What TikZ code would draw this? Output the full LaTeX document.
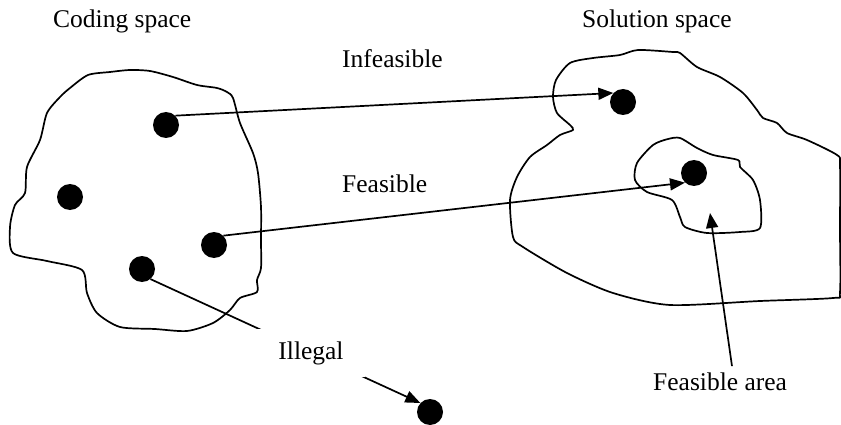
\documentclass[tikz,border=0pt]{standalone}
\usepackage{fontspec}
\setmainfont{Liberation Serif}
\usepackage{tikz}
\usetikzlibrary{arrows.meta,positioning}

\begin{document}
\begin{tikzpicture}[x=1pt,y=-1pt,
  blob/.style={line width=1.7pt,line join=round},
  dot/.style={circle,fill=black,inner sep=0pt,minimum size=26pt},
  lbl/.style={font=\fontsize{25.5}{28}\selectfont,inner sep=0pt},
  arrow/.style={-{Triangle[length=15pt,width=12pt]},line width=1.7pt}
]
\useasboundingbox (0,0) rectangle (841,425);

% coding space outline
\draw[blob] plot[smooth cycle,tension=0.45] coordinates {
  (88,75) (110,72) (130,70) (150,71) (173,77) (197,85) (217,88) (227,92)
  (233,98) (240,123) (253,153) (258,173) (261,207) (261,240) (261,268)
  (257,280) (257,292) (240,298) (230,310) (213,323) (187,331) (155,329)
  (120,327) (97,313) (87,293) (82,270) (47,261) (13,253) (10,227) (15,205)
  (25,193) (27,167) (40,140) (47,113) (60,97) (70,88)};

% solution space outline and feasible area
\draw[blob] plot[smooth cycle,tension=0.45] coordinates {
  (570,63) (593,58) (620,55) (638,50) (673,52) (680,53) (697,67) (720,77)
  (743,93) (757,110) (763,118) (777,123) (787,133) (807,140) (837,155)
  (840,165) (840,230) (840,292) (833,298) (760,301) (670,305) (613,293)
  (567,273) (523,247) (513,237) (510,200) (517,177) (530,157) (547,145)
  (560,135) (573,130) (570,125) (557,113) (553,97) (556,80)};
\draw[blob] plot[smooth cycle,tension=0.45] coordinates {
  (680,138) (697,148) (713,155) (738,160) (740,167) (753,180) (760,200)
  (760,228) (740,232) (707,233) (685,227) (680,217) (672,200) (647,192)
  (635,180) (637,163) (653,145) (668,139)};

% points
\node[dot] (c1) at (166,125) {};
\node[dot] (c2) at (70,197) {};
\node[dot] (c3) at (214,245) {};
\node[dot] (c4) at (142,269) {};
\node[dot] (s1) at (623,102) {};
\node[dot] (s2) at (694,173) {};
\node[dot] (out) at (430,412) {};

% titles and labels
\node[lbl,anchor=base west] (coding) at (53,28) {Coding space};
\node[lbl,anchor=base west] (solution) at (582,28) {Solution space};
\node[lbl,anchor=base west] (infeas) at (342,68) {Infeasible};
\node[lbl,anchor=base west] (feas) at (342,193) {Feasible};
\node[lbl,anchor=base west] (area) at (653,390) {Feasible area};
\coordinate (areatip) at (710,213);

% mappings
\draw[arrow] (c1.45) -- (s1.137);
\draw[arrow] (c3.45) -- (s2.227);
\draw[arrow] (c4.-50) -- (out.137);
\node[lbl,fill=white,minimum width=108pt,minimum height=48pt] (illegal) at (311,353) {Illegal};
\draw[arrow] ([xshift=79pt,yshift=6pt]area.north west) -- (areatip);
\end{tikzpicture}
\end{document}
